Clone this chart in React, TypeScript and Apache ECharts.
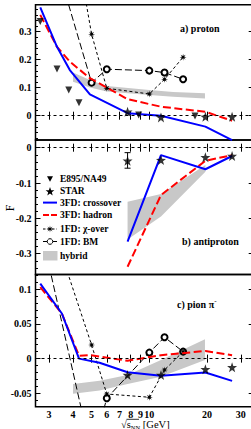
import React, { useEffect, useRef } from "react";
import * as echarts from "echarts";

// ---------- axis ticks ----------
const xTicks = [3, 4, 5, 6, 7, 8, 9, 10, 20, 30];
const yMajorA = [0, 0.1, 0.2, 0.3];
const yMajorB = [-0.3, -0.2, -0.1, 0];
const yMajorC = [-0.05, 0, 0.05, 0.1];

// ---------- panel a) proton ----------
const aCrossover = [[2.7, 0.387], [3.3, 0.246], [3.85, 0.163], [4.9, 0.076], [7.7, 0.009], [11.5, 0.0], [19.6, -0.039], [27, -0.087]];
const aHadron = [[2.7, 0.36], [3.3, 0.246], [3.85, 0.193], [4.9, 0.134], [7.7, 0.059], [11.5, 0.032], [19.6, 0.014], [27, -0.018]];
const aE895 = [[2.7, 0.336], [3.3, 0.167], [3.8, 0.092], [4.3, 0.046], [8.8, 0.0025], [17.3, -0.001]];
const aStar = [[7.7, 0.014], [11.5, -0.006], [19.6, -0.004], [27, -0.004]];
const aChi = [[3.3, 1.0], [5, 0.291], [6, 0.098], [10, 0.0775], [12, 0.13], [15, 0.209]];
const aBM = [[2.7, 0.74], [5, 0.118], [6, 0.166], [10, 0.161], [12, 0.154], [15, 0.13]];
const aHybridUp = [[4.0, 0.154], [4.9, 0.1275], [6, 0.106], [10, 0.092], [13.3, 0.085], [19.5, 0.08]];
const aHybridLo = [[4.0, 0.121], [4.9, 0.101], [6, 0.086], [10, 0.074], [13.3, 0.068], [19.5, 0.061]];

// ---------- panel b) antiproton ----------
const bCrossover = [[7.7, -0.266], [11.5, -0.021], [19.6, -0.061], [27, -0.0235]];
const bHadron = [[7.7, -0.337], [11.5, -0.134], [19.6, -0.037], [27, -0.021]];
const bStar = [[7.7, -0.037], [11.5, -0.035], [19.6, -0.027], [27, -0.0235]];
const bStarErr = [[7.7, -0.014, -0.058]];
const bHybridUp = [[7.7, -0.153], [11.5, -0.131], [19.6, -0.049]];
const bHybridLo = [[7.7, -0.26], [11.5, -0.195], [19.6, -0.068]];

// ---------- panel c) pion ----------
const cCrossover = [[2.7, 0.108], [3.5, 0.065], [4.3, 0.0], [5.5, -0.006], [7.7, -0.0196], [11.5, -0.0245], [19.6, -0.02], [27, -0.032]];
const cHadron = [[2.7, 0.103], [3.5, 0.065], [4.3, 0.004], [4.9, 0.005], [7.7, -0.003], [11.5, 0.005], [19.6, 0.011], [27, 0.005]];
const cStar = [[7.7, -0.0235], [11.5, -0.0235], [19.6, -0.0153], [27, -0.0124]];
const cChi = [[3.3, 0.17], [5, 0.0197], [6, -0.0509], [10, -0.0556], [12, -0.0163], [15, 0.0101]];
const cBM = [[2.7, 0.19], [5, -0.138], [6, -0.057], [10, 0.0087], [12, 0.0308], [15, 0.0101]];
const cHybridUp = [[4.0, -0.0365], [5.5, -0.0317], [7.7, -0.0235], [11.5, -0.0019], [19.5, 0.028]];
const cHybridLo = [[4.0, -0.0507], [5.5, -0.046], [7.7, -0.0365], [11.5, -0.026], [19.5, -0.0019]];

const NAMES = ["E895/NA49", "STAR", "3FD: crossover", "3FD: hadron", "1FD: \u03c7-over", "1FD: BM", "hybrid"];

const FONT = "Liberation Serif";
const STAR_PATH = "path://M10 0 L12.35 6.76 L19.51 6.91 L13.8 11.24 L15.88 18.09 L10 14 L4.12 18.09 L6.2 11.24 L0.49 6.91 L7.65 6.76 Z";
const AST_PATH = "path://M20 10 L13.23 11.34 L17.07 17.07 L11.34 13.23 L10 20 L8.66 13.23 L2.93 17.07 L6.77 11.34 L0 10 L6.77 8.66 L2.93 2.93 L8.66 6.77 L10 0 L11.34 6.77 L17.07 2.93 L13.23 8.66 Z";

const ticksBetween = (lo: number, hi: number, step: number) => {
  const out: number[] = [];
  for (let k = Math.ceil(lo / step - 1e-9); k * step <= hi + 1e-9; k++) out.push(+(k * step).toFixed(4));
  return out;
};

// star-shaped polygon outline (used only for legend glyphs)
const starPts = (cx: number, cy: number, R: number, r: number, n: number) => {
  const pts: number[][] = [];
  for (let k = 0; k < 2 * n; k++) {
    const a = -Math.PI / 2 + (k * Math.PI) / n;
    const rad = k % 2 === 0 ? R : r;
    pts.push([cx + rad * Math.cos(a), cy + rad * Math.sin(a)]);
  }
  return pts;
};

const LEFT = 35.5;
const PLOT_W = 218.2;
const PANELS = [
  { top: 4.7, height: 135.3, min: -0.0868, max: 0.3964, major: yMajorA, minor: ticksBetween(-0.08, 0.38, 0.02) },
  { top: 140, height: 134.6, min: -0.3592, max: 0.0218, major: yMajorB, minor: ticksBetween(-0.34, 0.02, 0.02) },
  { top: 274.6, height: 132.1, min: -0.0692, max: 0.121, major: yMajorC, minor: ticksBetween(-0.06, 0.12, 0.01) },
];

function bandSeries(i: number, up: number[][], lo: number[][]) {
  return {
    type: "custom",
    name: "hybrid",
    xAxisIndex: i * 2,
    yAxisIndex: i * 3,
    clip: true,
    silent: true,
    z: 1,
    itemStyle: { color: "#c8c8c8" },
    data: [up[0]],
    renderItem: (params: any, api: any) => {
      if (params.dataIndex !== 0) return null;
      const pts = [...up.map((p) => api.coord(p)), ...lo.slice().reverse().map((p) => api.coord(p))];
      return { type: "polygon", shape: { points: pts }, style: { fill: "#c8c8c8" } };
    },
  };
}

function lineSeries(i: number, name: string, data: number[][], kind: string) {
  const base: any = { type: "line", name, data, xAxisIndex: i * 2, yAxisIndex: i * 3, clip: true, silent: true };
  if (kind === "blue") {
    return { ...base, symbol: "none", z: 4, itemStyle: { color: "#0000ff" }, lineStyle: { color: "#0000ff", width: 2 } };
  }
  if (kind === "red") {
    return { ...base, symbol: "none", z: 4, itemStyle: { color: "#ff0000" }, lineStyle: { color: "#ff0000", width: 2, type: [8, 3.5] } };
  }
  if (kind === "chi") {
    return { ...base, symbol: AST_PATH, symbolSize: 7, z: 3, itemStyle: { color: "#000" }, lineStyle: { color: "#000", width: 1, type: [3, 2.5] } };
  }
  return {
    ...base, symbol: "emptyCircle", symbolSize: 6, z: 3,
    itemStyle: { color: "#000", borderColor: "#000", borderWidth: 1 },
    lineStyle: { color: "#000", width: 1, type: [7, 3] },
  };
}

function scatterSeries(i: number, name: string, data: number[][], kind: string) {
  const base: any = { type: "scatter", name, data, xAxisIndex: i * 2, yAxisIndex: i * 3, clip: true, silent: true, z: 6, itemStyle: { color: "#000" } };
  if (kind === "tri") return { ...base, symbol: "triangle", symbolRotate: 180, symbolSize: 7 };
  return { ...base, symbol: STAR_PATH, symbolSize: 10 };
}

function zeroLine(i: number) {
  return {
    type: "line", name: "zero" + i, data: [], xAxisIndex: i * 2, yAxisIndex: i * 3, silent: true,
    markLine: {
      silent: true, symbol: ["none", "none"], label: { show: false }, animation: false,
      lineStyle: { color: "#000", type: [3, 3], width: 1 },
      data: [{ yAxis: 0 }],
    },
  };
}

function legendGraphics() {
  const tx = 60;
  const rows = [179, 191.3, 202.6, 215, 229, 241.5, 255.7];
  const txt = (t: string, y: number) => ({
    type: "text", x: tx, y, z: 100,
    style: { text: t, font: `bold 9.5px "${FONT}"`, fill: "#000", verticalAlign: "middle", align: "left" },
  });
  const els: any[] = [
    { type: "polygon", z: 100, shape: { points: [[47, 176.3], [53, 176.3], [50, 181.8]] }, style: { fill: "#000" } },
    { type: "polygon", z: 100, shape: { points: starPts(50, rows[1] + 0.4, 4.6, 1.9, 5) }, style: { fill: "#000" } },
    { type: "line", z: 100, shape: { x1: 43, y1: rows[2], x2: 57, y2: rows[2] }, style: { stroke: "#0000ff", lineWidth: 2 } },
    { type: "line", z: 100, shape: { x1: 43, y1: rows[3], x2: 57, y2: rows[3] }, style: { stroke: "#ff0000", lineWidth: 2, lineDash: [6, 2] } },
    { type: "line", z: 100, shape: { x1: 43, y1: rows[4], x2: 57, y2: rows[4] }, style: { stroke: "#000", lineWidth: 1, lineDash: [2.5, 2] } },
    { type: "polygon", z: 101, shape: { points: starPts(50, rows[4], 3.6, 1.2, 8) }, style: { fill: "#000" } },
    { type: "line", z: 100, shape: { x1: 43, y1: rows[5], x2: 57, y2: rows[5] }, style: { stroke: "#000", lineWidth: 1 } },
    { type: "circle", z: 101, shape: { cx: 50, cy: rows[5], r: 2.8 }, style: { fill: "#fff", stroke: "#000", lineWidth: 1 } },
    { type: "rect", z: 100, shape: { x: 43, y: 251, width: 14.5, height: 9.5 }, style: { fill: "#c8c8c8" } },
  ];
  NAMES.forEach((n, k) => els.push(txt(n, rows[k])));
  return els;
}

function buildOption() {
  const grid: any[] = [];
  const xAxis: any[] = [];
  const yAxis: any[] = [];
  PANELS.forEach((p, i) => {
    grid.push({ left: LEFT, top: p.top, width: PLOT_W, height: p.height, show: true, borderColor: "#000", borderWidth: 1.5, backgroundColor: "transparent" });
    ["bottom", "top"].forEach((pos) => {
      xAxis.push({
        gridIndex: i, type: "log", min: 2.55, max: 35, position: pos,
        axisLine: { show: false },
        axisTick: { show: true, inside: true, length: 4, customValues: xTicks, lineStyle: { color: "#000", width: 1 } },
        axisLabel: {
          show: i === 2 && pos === "bottom", customValues: xTicks, margin: 2.5,
          color: "#000", fontFamily: FONT, fontWeight: "bold", fontSize: 10,
        },
        splitLine: { show: false },
        minorTick: { show: false },
      });
    });
    yAxis.push({
      gridIndex: i, type: "value", min: p.min, max: p.max, position: "left",
      axisLine: { show: false },
      axisTick: { show: true, inside: true, length: 5, customValues: p.major, lineStyle: { color: "#000", width: 1 } },
      axisLabel: { show: true, customValues: p.major, margin: 4, color: "#000", fontFamily: FONT, fontWeight: "bold", fontSize: 10 },
      splitLine: { show: false },
    });
    yAxis.push({
      gridIndex: i, type: "value", min: p.min, max: p.max, position: "left",
      axisLine: { show: false },
      axisTick: { show: true, inside: true, length: 2.5, customValues: p.minor, lineStyle: { color: "#000", width: 1 } },
      axisLabel: { show: false },
      splitLine: { show: false },
    });
    yAxis.push({
      gridIndex: i, type: "value", min: p.min, max: p.max, position: "right",
      axisLine: { show: false },
      axisTick: { show: true, inside: true, length: 5, customValues: p.major, lineStyle: { color: "#000", width: 1 } },
      axisLabel: { show: false },
      splitLine: { show: false },
    });
  });

  const errBar = {
    type: "custom", name: "STAR-err", xAxisIndex: 2, yAxisIndex: 3, silent: true, z: 5,
    data: bStarErr, encode: { x: 0, y: [1, 2] },
    renderItem: (params: any, api: any) => {
      const t = api.coord([api.value(0), api.value(1)]);
      const b = api.coord([api.value(0), api.value(2)]);
      const st = { stroke: "#000", lineWidth: 1 };
      return {
        type: "group",
        children: [
          { type: "line", shape: { x1: t[0], y1: t[1], x2: b[0], y2: b[1] }, style: st },
          { type: "line", shape: { x1: t[0] - 3, y1: t[1], x2: t[0] + 3, y2: t[1] }, style: st },
          { type: "line", shape: { x1: b[0] - 3, y1: b[1], x2: b[0] + 3, y2: b[1] }, style: st },
        ],
      };
    },
  };

  const series: any[] = [
    // panel a
    bandSeries(0, aHybridUp, aHybridLo),
    zeroLine(0),
    lineSeries(0, NAMES[5], aBM, "bm"),
    lineSeries(0, NAMES[4], aChi, "chi"),
    lineSeries(0, NAMES[3], aHadron, "red"),
    lineSeries(0, NAMES[2], aCrossover, "blue"),
    scatterSeries(0, NAMES[0], aE895, "tri"),
    scatterSeries(0, NAMES[1], aStar, "star"),
    // panel b
    bandSeries(1, bHybridUp, bHybridLo),
    zeroLine(1),
    lineSeries(1, NAMES[3], bHadron, "red"),
    lineSeries(1, NAMES[2], bCrossover, "blue"),
    errBar,
    scatterSeries(1, NAMES[1], bStar, "star"),
    // panel c
    bandSeries(2, cHybridUp, cHybridLo),
    zeroLine(2),
    lineSeries(2, NAMES[5], cBM, "bm"),
    lineSeries(2, NAMES[4], cChi, "chi"),
    lineSeries(2, NAMES[3], cHadron, "red"),
    lineSeries(2, NAMES[2], cCrossover, "blue"),
    scatterSeries(2, NAMES[1], cStar, "star"),
  ];

  const labelStyle = (text: string) => ({ text, font: `bold 10px "${FONT}"`, fill: "#000", verticalAlign: "middle", align: "left" });

  return {
    animation: false,
    backgroundColor: "#fff",
    grid, xAxis, yAxis, series,
    graphic: [
      ...legendGraphics(),
      { type: "text", x: 180, y: 28, style: labelStyle("a) proton") },
      { type: "text", x: 182, y: 241, style: labelStyle("b) antiproton") },
      {
        type: "text", x: 177, y: 304,
        style: {
          text: "c) pion \u03c0{sup|-}", font: `bold 10px "${FONT}"`, fill: "#000", verticalAlign: "middle", align: "left",
          rich: { sup: { fontSize: 7, fontWeight: "bold", fontFamily: FONT, verticalAlign: "top", padding: [0, 0, 6, 0] } },
        },
      },
      {
        type: "text", x: 10, y: 208, rotation: Math.PI / 2,
        style: { text: "F", font: `12px "${FONT}"`, fill: "#000", align: "center", verticalAlign: "middle" },
      },
      {
        type: "text", x: 121, y: 424.5,
        style: {
          text: "\u221as{sub|NN} [GeV]", font: `10.5px "${FONT}"`, fill: "#000", align: "left", verticalAlign: "middle",
          rich: { sub: { fontSize: 6.5, fontFamily: FONT, verticalAlign: "bottom", padding: [5, 0, 0, 0] } },
        },
      },
      { type: "line", shape: { x1: 126.5, y1: 419.3, x2: 139, y2: 419.3 }, style: { stroke: "#000", lineWidth: 0.8 } },
    ],
  };
}

export default function App() {
  const ref = useRef<HTMLDivElement>(null);
  useEffect(() => {
    if (!ref.current) return;
    const chart = echarts.init(ref.current, null, { renderer: "svg" });
    chart.setOption(buildOption() as any);
    return () => chart.dispose();
  }, []);
  return <div ref={ref} style={{ position: "fixed", left: 0, top: 0, width: 260, height: 429 }} />;
}
